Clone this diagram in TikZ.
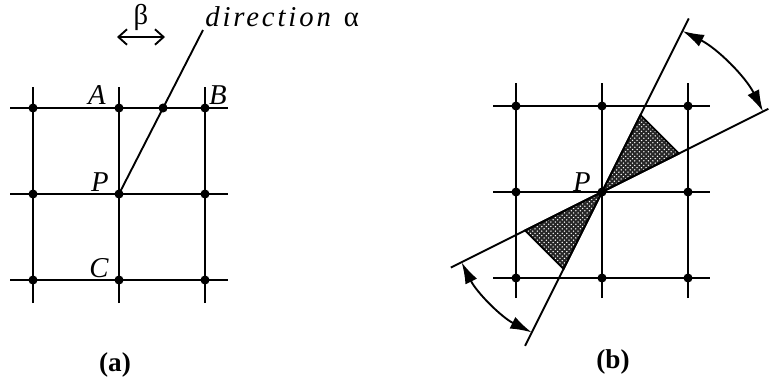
\documentclass[tikz,border=0pt]{standalone}
\usepackage{fontspec}
\setmainfont{Liberation Serif}
\newfontfamily\dirfont[LetterSpace=10]{Liberation Serif}
\usetikzlibrary{arrows.meta,calc,patterns}

\begin{document}
\begin{tikzpicture}[x=0.0232558cm, y=0.0232558cm,
  gline/.style={line width=1.25pt},
  gdot/.style={circle, fill=black, inner sep=0pt, minimum size=6pt},
  lbl/.style={font=\fontsize{19}{21}\selectfont\itshape, inner sep=0pt},
  sublbl/.style={font=\fontsize{18}{20}\selectfont\bfseries, inner sep=0pt},
  angarr/.style={line width=1.25pt, {Latex[length=5mm,width=3mm]}-{Latex[length=5mm,width=3mm]}},
  dotfill/.style={preaction={fill=black!85}, pattern=crosshatch dots, pattern color=white}]
\useasboundingbox (0,0) rectangle (769,383);

% (a)
\foreach \x in {33,119,205} \draw[gline] (\x,80) -- (\x,296);
\foreach \y in {103,189,275} \draw[gline] (10,\y) -- (228,\y);
\foreach \c/\x in {0/33,1/119,2/205}
  \foreach \r/\y in {0/103,1/189,2/275}
    \node[gdot] (a\c\r) at (\x,\y) {};
\coordinate (dirend) at (203,353);
\draw[gline] (a11.center) -- (dirend);
\node[gdot] (cross) at ($(a11.center)!0.5244!(dirend)$) {};
\node[lbl] (lA) at (97,288) {A};
\node[lbl] (lB) at (218,288) {B};
\node[lbl] (lP) at (100,201) {P};
\node[lbl] (lC) at (99,115) {C};
\coordinate (bl) at (117,346);
\coordinate (br) at (165,346);
\draw[gline, {Straight Barb[length=2mm,width=3.6mm]}-{Straight Barb[length=2mm,width=3.6mm]}] (bl) -- (br);
\node[inner sep=0pt, font=\fontsize{19}{21}\selectfont] (beta) at (141,366) {β};
\node[anchor=base west, inner sep=0pt, font=\fontsize{19}{21}\selectfont] (dirlbl) at (205,357)
  {{\dirfont\itshape direction}\hspace{0.3cm}α};
\node[sublbl] (capa) at (115,18) {(a)};

% (b)
\foreach \x in {516,602,688} \draw[gline] (\x,85) -- (\x,300);
\foreach \y in {105,191,277} \draw[gline] (493,\y) -- (710,\y);
\foreach \c/\x in {0/516,1/602,2/688}
  \foreach \r/\y in {0/105,1/191,2/277}
    \node[gdot] (b\c\r) at (\x,\y) {};
\coordinate (Q) at (b11.center);
\coordinate (s1) at ($(Q)+(63.43:86)$);
\coordinate (s2) at ($(Q)+(26.57:86)$);
\coordinate (s3) at ($(Q)+(206.57:86)$);
\coordinate (s4) at ($(Q)+(243.43:86)$);
\draw[gline, dotfill] (Q) -- (s1) -- (s2) -- cycle;
\draw[gline, dotfill] (Q) -- (s3) -- (s4) -- cycle;
\coordinate (l1a) at ($(Q)+(63.43:194)$);
\coordinate (l1b) at ($(Q)+(243.43:172)$);
\coordinate (l2a) at ($(Q)+(26.57:186)$);
\coordinate (l2b) at ($(Q)+(206.57:169)$);
\draw[gline] (l1b) -- (l1a);
\draw[gline] (l2b) -- (l2a);
\draw[angarr] ($(Q)+(63.43:180)$) arc[start angle=63.43, end angle=26.57, radius=180];
\draw[angarr] ($(Q)+(206.57:157)$) arc[start angle=206.57, end angle=243.43, radius=157];
\node[lbl] (lP2) at (582,201) {P};
\node[sublbl] (capb) at (613,21) {(b)};
\end{tikzpicture}
\end{document}
